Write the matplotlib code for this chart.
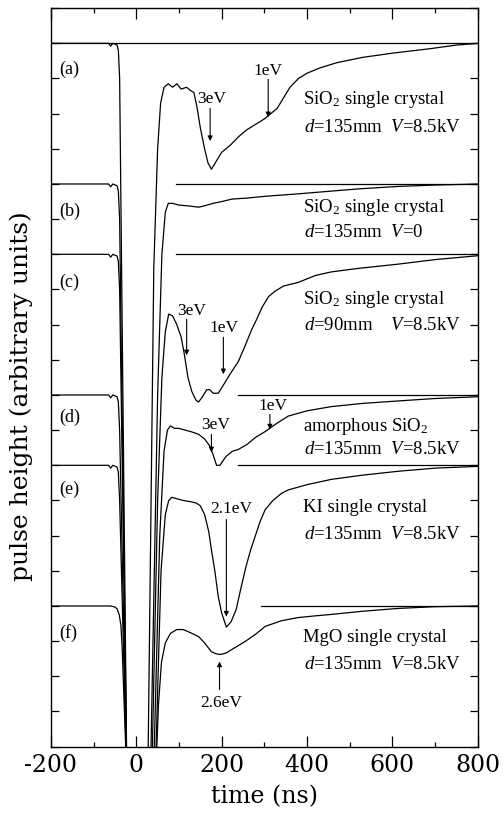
import numpy as np
import matplotlib
matplotlib.use("Agg")
import matplotlib.pyplot as plt
from matplotlib.ticker import MultipleLocator

plt.rcParams['font.family'] = 'serif'
plt.rcParams['font.serif'] = ['Liberation Serif', 'DejaVu Serif']
plt.rcParams['mathtext.fontset'] = 'custom'
plt.rcParams['mathtext.rm'] = 'Liberation Serif'
plt.rcParams['mathtext.it'] = 'Liberation Serif:italic'
plt.rcParams['axes.unicode_minus'] = False

# --- traces (time in ns, height in tick units) ---
t_a = [-200, -65, -60, -55, -45, -42, -39, -22, 27, 41, 50, 57, 65, 75, 85, 95, 105, 118, 128, 135,
       142, 150, 160, 168, 176, 185, 200, 220, 240, 260, 280, 300, 315, 330, 345, 360, 380, 400,
       430, 470, 530, 600, 690, 750, 800]
h_a = [20.0, 20.0, 19.92, 20.0, 19.95, 19.8, 19.0, -1, -1, 13.6, 17.0, 18.3, 18.75, 18.85, 18.75,
       18.85, 18.7, 18.75, 18.65, 18.6, 18.2, 17.6, 17.0, 16.6, 16.42, 16.6, 16.9, 17.1, 17.35,
       17.55, 17.7, 17.85, 18.0, 18.15, 18.45, 18.75, 19.0, 19.15, 19.3, 19.45, 19.6, 19.72,
       19.85, 19.95, 20.0]

t_b = [-200, -65, -60, -55, -45, -42, -39, -22, 33, 50, 60, 68, 75, 85, 100, 120, 146, 160, 180,
       200, 224, 260, 302, 380, 459, 520, 613, 700, 800]
h_b = [16.0, 16.0, 15.92, 16.0, 15.95, 15.8, 15.0, -1, -1, 10.0, 14.0, 15.2, 15.45, 15.45, 15.4,
       15.38, 15.34, 15.38, 15.45, 15.5, 15.57, 15.6, 15.65, 15.72, 15.8, 15.86, 15.93, 15.97, 16.0]

t_c = [-200, -65, -60, -55, -45, -42, -39, -22, 36, 50, 60, 68, 76, 85, 95, 105, 112, 121, 130,
       140, 146, 155, 165, 172, 180, 192, 205, 220, 239, 255, 270, 280, 295, 310, 325, 345, 379,
       420, 457, 520, 613, 700, 800]
h_c = [14.0, 14.0, 13.92, 14.0, 13.95, 13.8, 13.0, -1, -1, 7.0, 10.5, 11.8, 12.3, 12.25, 12.0,
       11.65, 11.2, 10.5, 10.1, 9.85, 9.8, 9.95, 10.15, 10.15, 10.05, 10.05, 10.3, 10.6, 10.95,
       11.4, 11.85, 12.1, 12.5, 12.8, 12.95, 13.1, 13.2, 13.4, 13.5, 13.6, 13.72, 13.85, 13.96]

t_d = [-200, -65, -60, -55, -45, -42, -39, -22, 40, 55, 65, 73, 80, 90, 100, 115, 130, 146, 160,
       172, 180, 188, 196, 210, 225, 239, 260, 280, 302, 330, 356, 400, 457, 530, 613, 700, 800]
h_d = [10.0, 10.0, 9.92, 10.0, 9.95, 9.8, 9.0, -1, -1, 6.0, 8.4, 9.0, 9.12, 9.05, 9.05, 9.0, 8.95,
       8.88, 8.75, 8.55, 8.3, 8.0, 8.0, 8.25, 8.4, 8.45, 8.6, 8.8, 8.96, 9.2, 9.4, 9.55, 9.67,
       9.76, 9.83, 9.9, 9.95]

t_e = [-200, -65, -60, -55, -45, -42, -39, -22, 44, 58, 68, 76, 83, 95, 110, 125, 140, 150, 160,
       170, 176, 184, 192, 200, 211, 222, 234, 245, 257, 268, 279, 290, 302, 320, 340, 356, 400,
       457, 530, 613, 700, 800]
h_e = [8.0, 8.0, 7.92, 8.0, 7.95, 7.8, 7.0, -1, -1, 5.0, 6.6, 7.0, 7.09, 7.05, 7.0, 6.97, 6.93,
       6.85, 6.6, 6.1, 5.6, 5.0, 4.27, 3.8, 3.4, 3.55, 3.9, 4.5, 5.12, 5.6, 6.0, 6.4, 6.74, 7.0,
       7.2, 7.3, 7.45, 7.6, 7.72, 7.83, 7.92, 7.97]

t_f = [-200, -60, -50, -45, -40, -36, -33, -22, 45, 52, 59, 68, 80, 95, 110, 125, 146, 160, 176,
       187, 197, 210, 225, 240, 255, 280, 302, 340, 379, 420, 457, 530, 613, 700, 800]
h_f = [4.0, 4.0, 3.97, 3.92, 3.75, 3.45, 2.8, -1, -1, 1.2, 2.4, 2.95, 3.22, 3.33, 3.33, 3.25,
       3.13, 2.95, 2.7, 2.64, 2.62, 2.66, 2.77, 2.88, 2.99, 3.2, 3.42, 3.58, 3.67, 3.72, 3.76,
       3.85, 3.93, 3.98, 4.0]

traces = [(t_a, h_a), (t_b, h_b), (t_c, h_c), (t_d, h_d), (t_e, h_e), (t_f, h_f)]

# zero lines drawn on the right of each trace
zero_start = [-200, 92, 92, 239, 239, 293]
zero_level = [20, 16, 14, 10, 8, 4]

panel_labels = ['(a)', '(b)', '(c)', '(d)', '(e)', '(f)']
panel_label_y = [19.27, 15.22, 13.2, 9.36, 7.31, 3.24]

sample_lines = [
    ('SiO$_2$ single crystal', r'$\mathit{d}$=135mm  $\mathit{V}$=8.5kV', 18.4, 17.6),
    ('SiO$_2$ single crystal', r'$\mathit{d}$=135mm  $\mathit{V}$=0', 15.34, 14.62),
    ('SiO$_2$ single crystal', r'$\mathit{d}$=90mm    $\mathit{V}$=8.5kV', 12.72, 11.98),
    ('amorphous SiO$_2$', r'$\mathit{d}$=135mm  $\mathit{V}$=8.5kV', 9.1, 8.45),
    ('KI single crystal', r'$\mathit{d}$=135mm  $\mathit{V}$=8.5kV', 6.8, 6.03),
    ('MgO single crystal', r'$\mathit{d}$=135mm  $\mathit{V}$=8.5kV', 3.1, 2.33),
]

# energy marks: label, text x, text y, arrow x, arrow tail y, arrow tip y
marks = [
    ('3eV', 177, 18.42, 173, 18.15, 17.22),
    ('1eV', 309, 19.21, 309, 18.98, 17.9),
    ('3eV', 130, 12.4, 118, 12.15, 11.13),
    ('1eV', 206, 11.9, 204, 11.64, 10.59),
    ('3eV', 185, 9.16, 176, 8.88, 8.37),
    ('1eV', 321, 9.68, 313, 9.45, 9.02),
    ('2.1eV', 223, 6.77, 211, 6.46, 3.7),
    ('2.6eV', 198, 1.25, 195, 1.62, 2.42),
]

fig = plt.figure(figsize=(5.04, 8.16), dpi=100)
ax = fig.add_axes([0.101, 0.085, 0.847, 0.905])

for (t, h) in traces:
    ax.plot(t, h, color='black', lw=0.9)
for x0, lev in zip(zero_start, zero_level):
    ax.plot([x0, 800], [lev, lev], color='black', lw=0.9)

for lab, y in zip(panel_labels, panel_label_y):
    ax.text(-180, y, lab, fontsize=13, ha='left', va='center')

for l1, l2, y1, y2 in sample_lines:
    ax.text(391, y1, l1, fontsize=13.5, ha='left', va='center')
    ax.text(392, y2, l2, fontsize=13.5, ha='left', va='center')

for lab, tx, ty, ax_x, y0, y1 in marks:
    ax.text(tx, ty, lab, fontsize=12.5, ha='center', va='center')
    ax.annotate('', xy=(ax_x, y1), xytext=(ax_x, y0),
                arrowprops=dict(arrowstyle='-|>', color='black', lw=0.8,
                                mutation_scale=7, shrinkA=0, shrinkB=0))

ax.set_xlim(-200, 800)
ax.set_ylim(0, 21)
ax.xaxis.set_major_locator(MultipleLocator(200))
ax.xaxis.set_minor_locator(MultipleLocator(100))
ax.yaxis.set_major_locator(MultipleLocator(1))
ax.tick_params(axis='x', which='major', direction='in', top=True, length=8, width=0.9,
               labelsize=17, pad=5)
ax.tick_params(axis='x', which='minor', direction='in', top=True, length=3.5, width=0.9)
ax.tick_params(axis='y', which='major', direction='in', right=True, length=6, width=0.9,
               labelleft=False)
for lbl in ax.get_xticklabels():
    lbl.set_family('DejaVu Serif')
for sp in ax.spines.values():
    sp.set_linewidth(1.0)

ax.set_xlabel('time (ns)', fontsize=17, family='DejaVu Serif', labelpad=6)
ax.set_ylabel('pulse height (arbitrary units)', fontsize=18, family='DejaVu Serif')
ax.yaxis.set_label_coords(-0.042, 0.475)

fig.savefig('out.png', dpi=100)
